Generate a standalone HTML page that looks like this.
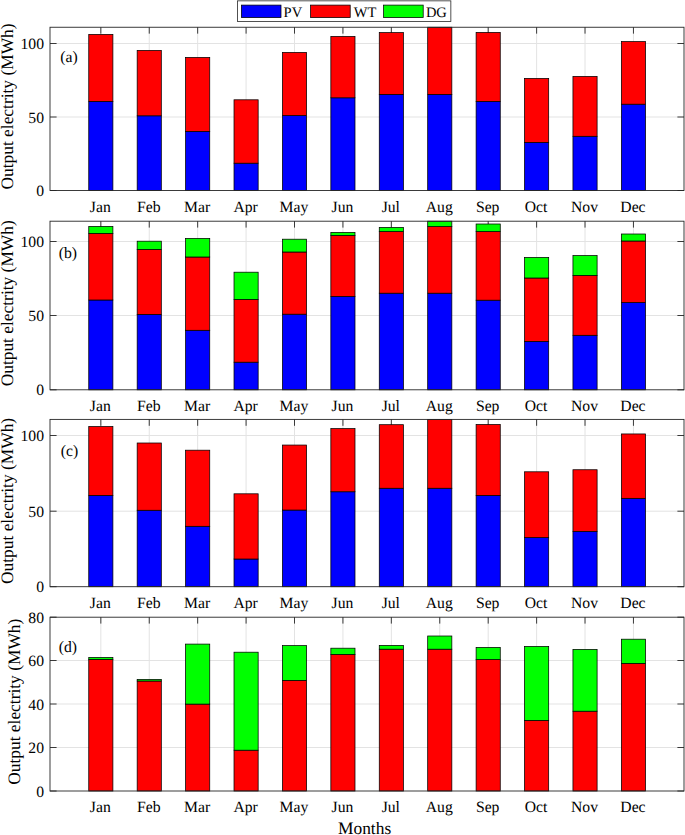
<!DOCTYPE html>
<html><head><meta charset="utf-8"><style>
html,body{margin:0;padding:0;background:#fff;}
svg{display:block;}
text{font-family:"Liberation Serif",serif;fill:#000;text-rendering:geometricPrecision;}
.tk{font-size:15.7px;}
.lb{font-size:17.4px;}
.lg{font-size:14.5px;}
</style></head><body>
<svg width="685" height="835" viewBox="0 0 685 835">
<rect width="685" height="835" fill="#fff"/>
<g stroke="#e3e3e3" stroke-width="1">
<line x1="100.83" y1="27.25" x2="100.83" y2="190.5"/>
<line x1="149.25" y1="27.25" x2="149.25" y2="190.5"/>
<line x1="197.67" y1="27.25" x2="197.67" y2="190.5"/>
<line x1="246.08" y1="27.25" x2="246.08" y2="190.5"/>
<line x1="294.50" y1="27.25" x2="294.50" y2="190.5"/>
<line x1="342.93" y1="27.25" x2="342.93" y2="190.5"/>
<line x1="391.34" y1="27.25" x2="391.34" y2="190.5"/>
<line x1="439.76" y1="27.25" x2="439.76" y2="190.5"/>
<line x1="488.19" y1="27.25" x2="488.19" y2="190.5"/>
<line x1="536.61" y1="27.25" x2="536.61" y2="190.5"/>
<line x1="585.03" y1="27.25" x2="585.03" y2="190.5"/>
<line x1="633.45" y1="27.25" x2="633.45" y2="190.5"/>
<line x1="50.0" y1="117.0" x2="684.0" y2="117.0"/>
<line x1="50.0" y1="43.5" x2="684.0" y2="43.5"/>
</g>
<g stroke="#262626" stroke-width="0.9">
<line x1="50.0" y1="190.5" x2="56.6" y2="190.5"/>
<line x1="684.0" y1="190.5" x2="677.4" y2="190.5"/>
<line x1="50.0" y1="117.0" x2="56.6" y2="117.0"/>
<line x1="684.0" y1="117.0" x2="677.4" y2="117.0"/>
<line x1="50.0" y1="43.5" x2="56.6" y2="43.5"/>
<line x1="684.0" y1="43.5" x2="677.4" y2="43.5"/>
<line x1="100.83" y1="27.25" x2="100.83" y2="33.65"/>
<line x1="149.25" y1="27.25" x2="149.25" y2="33.65"/>
<line x1="197.67" y1="27.25" x2="197.67" y2="33.65"/>
<line x1="246.08" y1="27.25" x2="246.08" y2="33.65"/>
<line x1="294.50" y1="27.25" x2="294.50" y2="33.65"/>
<line x1="342.93" y1="27.25" x2="342.93" y2="33.65"/>
<line x1="391.34" y1="27.25" x2="391.34" y2="33.65"/>
<line x1="439.76" y1="27.25" x2="439.76" y2="33.65"/>
<line x1="488.19" y1="27.25" x2="488.19" y2="33.65"/>
<line x1="536.61" y1="27.25" x2="536.61" y2="33.65"/>
<line x1="585.03" y1="27.25" x2="585.03" y2="33.65"/>
<line x1="633.45" y1="27.25" x2="633.45" y2="33.65"/>
</g>
<g stroke="#000" stroke-width="0.75">
<rect x="88.75" y="101.40" width="24.15" height="89.10" fill="#0000ff"/>
<rect x="88.75" y="34.40" width="24.15" height="67.00" fill="#ff0000"/>
<rect x="137.17" y="115.80" width="24.15" height="74.70" fill="#0000ff"/>
<rect x="137.17" y="50.40" width="24.15" height="65.40" fill="#ff0000"/>
<rect x="185.59" y="131.40" width="24.15" height="59.10" fill="#0000ff"/>
<rect x="185.59" y="57.40" width="24.15" height="74.00" fill="#ff0000"/>
<rect x="234.01" y="163.20" width="24.15" height="27.30" fill="#0000ff"/>
<rect x="234.01" y="99.80" width="24.15" height="63.40" fill="#ff0000"/>
<rect x="282.43" y="115.60" width="24.15" height="74.90" fill="#0000ff"/>
<rect x="282.43" y="52.40" width="24.15" height="63.20" fill="#ff0000"/>
<rect x="330.85" y="97.80" width="24.15" height="92.70" fill="#0000ff"/>
<rect x="330.85" y="36.40" width="24.15" height="61.40" fill="#ff0000"/>
<rect x="379.27" y="94.40" width="24.15" height="96.10" fill="#0000ff"/>
<rect x="379.27" y="32.60" width="24.15" height="61.80" fill="#ff0000"/>
<rect x="427.69" y="94.40" width="24.15" height="96.10" fill="#0000ff"/>
<rect x="427.69" y="27.25" width="24.15" height="67.15" fill="#ff0000"/>
<rect x="476.11" y="101.40" width="24.15" height="89.10" fill="#0000ff"/>
<rect x="476.11" y="32.40" width="24.15" height="69.00" fill="#ff0000"/>
<rect x="524.53" y="142.40" width="24.15" height="48.10" fill="#0000ff"/>
<rect x="524.53" y="78.40" width="24.15" height="64.00" fill="#ff0000"/>
<rect x="572.95" y="136.30" width="24.15" height="54.20" fill="#0000ff"/>
<rect x="572.95" y="76.40" width="24.15" height="59.90" fill="#ff0000"/>
<rect x="621.37" y="104.20" width="24.15" height="86.30" fill="#0000ff"/>
<rect x="621.37" y="41.60" width="24.15" height="62.60" fill="#ff0000"/>
</g>
<rect x="50.0" y="27.25" width="634.0" height="163.25" fill="none" stroke="#262626" stroke-width="0.9"/>
<text x="44.0" y="196.00" text-anchor="end" class="tk">0</text>
<text x="44.0" y="122.50" text-anchor="end" class="tk">50</text>
<text x="44.0" y="49.00" text-anchor="end" class="tk">100</text>
<text x="100.33" y="211.50" text-anchor="middle" class="tk">Jan</text>
<text x="148.75" y="211.50" text-anchor="middle" class="tk">Feb</text>
<text x="197.17" y="211.50" text-anchor="middle" class="tk">Mar</text>
<text x="245.58" y="211.50" text-anchor="middle" class="tk">Apr</text>
<text x="294.00" y="211.50" text-anchor="middle" class="tk">May</text>
<text x="342.43" y="211.50" text-anchor="middle" class="tk">Jun</text>
<text x="390.84" y="211.50" text-anchor="middle" class="tk">Jul</text>
<text x="439.26" y="211.50" text-anchor="middle" class="tk">Aug</text>
<text x="487.69" y="211.50" text-anchor="middle" class="tk">Sep</text>
<text x="536.11" y="211.50" text-anchor="middle" class="tk">Oct</text>
<text x="584.53" y="211.50" text-anchor="middle" class="tk">Nov</text>
<text x="632.95" y="211.50" text-anchor="middle" class="tk">Dec</text>
<text x="60.3" y="61.5" class="tk">(a)</text>
<text transform="translate(12.6,106.5) rotate(-90)" text-anchor="middle" class="lb">Output electrity (MWh)</text>
<g stroke="#e3e3e3" stroke-width="1">
<line x1="100.83" y1="221.2" x2="100.83" y2="389.8"/>
<line x1="149.25" y1="221.2" x2="149.25" y2="389.8"/>
<line x1="197.67" y1="221.2" x2="197.67" y2="389.8"/>
<line x1="246.08" y1="221.2" x2="246.08" y2="389.8"/>
<line x1="294.50" y1="221.2" x2="294.50" y2="389.8"/>
<line x1="342.93" y1="221.2" x2="342.93" y2="389.8"/>
<line x1="391.34" y1="221.2" x2="391.34" y2="389.8"/>
<line x1="439.76" y1="221.2" x2="439.76" y2="389.8"/>
<line x1="488.19" y1="221.2" x2="488.19" y2="389.8"/>
<line x1="536.61" y1="221.2" x2="536.61" y2="389.8"/>
<line x1="585.03" y1="221.2" x2="585.03" y2="389.8"/>
<line x1="633.45" y1="221.2" x2="633.45" y2="389.8"/>
<line x1="50.0" y1="315.5" x2="684.0" y2="315.5"/>
<line x1="50.0" y1="241.5" x2="684.0" y2="241.5"/>
</g>
<g stroke="#262626" stroke-width="0.9">
<line x1="50.0" y1="389.8" x2="56.6" y2="389.8"/>
<line x1="684.0" y1="389.8" x2="677.4" y2="389.8"/>
<line x1="50.0" y1="315.5" x2="56.6" y2="315.5"/>
<line x1="684.0" y1="315.5" x2="677.4" y2="315.5"/>
<line x1="50.0" y1="241.5" x2="56.6" y2="241.5"/>
<line x1="684.0" y1="241.5" x2="677.4" y2="241.5"/>
<line x1="100.83" y1="221.2" x2="100.83" y2="227.6"/>
<line x1="149.25" y1="221.2" x2="149.25" y2="227.6"/>
<line x1="197.67" y1="221.2" x2="197.67" y2="227.6"/>
<line x1="246.08" y1="221.2" x2="246.08" y2="227.6"/>
<line x1="294.50" y1="221.2" x2="294.50" y2="227.6"/>
<line x1="342.93" y1="221.2" x2="342.93" y2="227.6"/>
<line x1="391.34" y1="221.2" x2="391.34" y2="227.6"/>
<line x1="439.76" y1="221.2" x2="439.76" y2="227.6"/>
<line x1="488.19" y1="221.2" x2="488.19" y2="227.6"/>
<line x1="536.61" y1="221.2" x2="536.61" y2="227.6"/>
<line x1="585.03" y1="221.2" x2="585.03" y2="227.6"/>
<line x1="633.45" y1="221.2" x2="633.45" y2="227.6"/>
</g>
<g stroke="#000" stroke-width="0.75">
<rect x="88.75" y="300.00" width="24.15" height="89.80" fill="#0000ff"/>
<rect x="88.75" y="233.40" width="24.15" height="66.60" fill="#ff0000"/>
<rect x="88.75" y="226.40" width="24.15" height="7.00" fill="#00ff00"/>
<rect x="137.17" y="314.40" width="24.15" height="75.40" fill="#0000ff"/>
<rect x="137.17" y="249.40" width="24.15" height="65.00" fill="#ff0000"/>
<rect x="137.17" y="241.20" width="24.15" height="8.20" fill="#00ff00"/>
<rect x="185.59" y="330.30" width="24.15" height="59.50" fill="#0000ff"/>
<rect x="185.59" y="257.00" width="24.15" height="73.30" fill="#ff0000"/>
<rect x="185.59" y="238.40" width="24.15" height="18.60" fill="#00ff00"/>
<rect x="234.01" y="362.20" width="24.15" height="27.60" fill="#0000ff"/>
<rect x="234.01" y="299.40" width="24.15" height="62.80" fill="#ff0000"/>
<rect x="234.01" y="272.20" width="24.15" height="27.20" fill="#00ff00"/>
<rect x="282.43" y="314.20" width="24.15" height="75.60" fill="#0000ff"/>
<rect x="282.43" y="252.00" width="24.15" height="62.20" fill="#ff0000"/>
<rect x="282.43" y="239.20" width="24.15" height="12.80" fill="#00ff00"/>
<rect x="330.85" y="296.40" width="24.15" height="93.40" fill="#0000ff"/>
<rect x="330.85" y="235.40" width="24.15" height="61.00" fill="#ff0000"/>
<rect x="330.85" y="232.40" width="24.15" height="3.00" fill="#00ff00"/>
<rect x="379.27" y="293.20" width="24.15" height="96.60" fill="#0000ff"/>
<rect x="379.27" y="231.60" width="24.15" height="61.60" fill="#ff0000"/>
<rect x="379.27" y="227.40" width="24.15" height="4.20" fill="#00ff00"/>
<rect x="427.69" y="293.20" width="24.15" height="96.60" fill="#0000ff"/>
<rect x="427.69" y="226.60" width="24.15" height="66.60" fill="#ff0000"/>
<rect x="427.69" y="221.20" width="24.15" height="5.40" fill="#00ff00"/>
<rect x="476.11" y="300.20" width="24.15" height="89.60" fill="#0000ff"/>
<rect x="476.11" y="231.60" width="24.15" height="68.60" fill="#ff0000"/>
<rect x="476.11" y="224.00" width="24.15" height="7.60" fill="#00ff00"/>
<rect x="524.53" y="341.40" width="24.15" height="48.40" fill="#0000ff"/>
<rect x="524.53" y="278.00" width="24.15" height="63.40" fill="#ff0000"/>
<rect x="524.53" y="257.40" width="24.15" height="20.60" fill="#00ff00"/>
<rect x="572.95" y="335.30" width="24.15" height="54.50" fill="#0000ff"/>
<rect x="572.95" y="275.40" width="24.15" height="59.90" fill="#ff0000"/>
<rect x="572.95" y="255.60" width="24.15" height="19.80" fill="#00ff00"/>
<rect x="621.37" y="302.60" width="24.15" height="87.20" fill="#0000ff"/>
<rect x="621.37" y="241.00" width="24.15" height="61.60" fill="#ff0000"/>
<rect x="621.37" y="234.00" width="24.15" height="7.00" fill="#00ff00"/>
</g>
<rect x="50.0" y="221.2" width="634.0" height="168.60000000000002" fill="none" stroke="#262626" stroke-width="0.9"/>
<text x="44.0" y="395.30" text-anchor="end" class="tk">0</text>
<text x="44.0" y="321.00" text-anchor="end" class="tk">50</text>
<text x="44.0" y="247.00" text-anchor="end" class="tk">100</text>
<text x="100.33" y="410.80" text-anchor="middle" class="tk">Jan</text>
<text x="148.75" y="410.80" text-anchor="middle" class="tk">Feb</text>
<text x="197.17" y="410.80" text-anchor="middle" class="tk">Mar</text>
<text x="245.58" y="410.80" text-anchor="middle" class="tk">Apr</text>
<text x="294.00" y="410.80" text-anchor="middle" class="tk">May</text>
<text x="342.43" y="410.80" text-anchor="middle" class="tk">Jun</text>
<text x="390.84" y="410.80" text-anchor="middle" class="tk">Jul</text>
<text x="439.26" y="410.80" text-anchor="middle" class="tk">Aug</text>
<text x="487.69" y="410.80" text-anchor="middle" class="tk">Sep</text>
<text x="536.11" y="410.80" text-anchor="middle" class="tk">Oct</text>
<text x="584.53" y="410.80" text-anchor="middle" class="tk">Nov</text>
<text x="632.95" y="410.80" text-anchor="middle" class="tk">Dec</text>
<text x="58.8" y="258.0" class="tk">(b)</text>
<text transform="translate(12.6,303.3) rotate(-90)" text-anchor="middle" class="lb">Output electrity (MWh)</text>
<g stroke="#e3e3e3" stroke-width="1">
<line x1="100.83" y1="419.4" x2="100.83" y2="586.7"/>
<line x1="149.25" y1="419.4" x2="149.25" y2="586.7"/>
<line x1="197.67" y1="419.4" x2="197.67" y2="586.7"/>
<line x1="246.08" y1="419.4" x2="246.08" y2="586.7"/>
<line x1="294.50" y1="419.4" x2="294.50" y2="586.7"/>
<line x1="342.93" y1="419.4" x2="342.93" y2="586.7"/>
<line x1="391.34" y1="419.4" x2="391.34" y2="586.7"/>
<line x1="439.76" y1="419.4" x2="439.76" y2="586.7"/>
<line x1="488.19" y1="419.4" x2="488.19" y2="586.7"/>
<line x1="536.61" y1="419.4" x2="536.61" y2="586.7"/>
<line x1="585.03" y1="419.4" x2="585.03" y2="586.7"/>
<line x1="633.45" y1="419.4" x2="633.45" y2="586.7"/>
<line x1="50.0" y1="511.2" x2="684.0" y2="511.2"/>
<line x1="50.0" y1="435.5" x2="684.0" y2="435.5"/>
</g>
<g stroke="#262626" stroke-width="0.9">
<line x1="50.0" y1="586.7" x2="56.6" y2="586.7"/>
<line x1="684.0" y1="586.7" x2="677.4" y2="586.7"/>
<line x1="50.0" y1="511.2" x2="56.6" y2="511.2"/>
<line x1="684.0" y1="511.2" x2="677.4" y2="511.2"/>
<line x1="50.0" y1="435.5" x2="56.6" y2="435.5"/>
<line x1="684.0" y1="435.5" x2="677.4" y2="435.5"/>
<line x1="100.83" y1="419.4" x2="100.83" y2="425.79999999999995"/>
<line x1="149.25" y1="419.4" x2="149.25" y2="425.79999999999995"/>
<line x1="197.67" y1="419.4" x2="197.67" y2="425.79999999999995"/>
<line x1="246.08" y1="419.4" x2="246.08" y2="425.79999999999995"/>
<line x1="294.50" y1="419.4" x2="294.50" y2="425.79999999999995"/>
<line x1="342.93" y1="419.4" x2="342.93" y2="425.79999999999995"/>
<line x1="391.34" y1="419.4" x2="391.34" y2="425.79999999999995"/>
<line x1="439.76" y1="419.4" x2="439.76" y2="425.79999999999995"/>
<line x1="488.19" y1="419.4" x2="488.19" y2="425.79999999999995"/>
<line x1="536.61" y1="419.4" x2="536.61" y2="425.79999999999995"/>
<line x1="585.03" y1="419.4" x2="585.03" y2="425.79999999999995"/>
<line x1="633.45" y1="419.4" x2="633.45" y2="425.79999999999995"/>
</g>
<g stroke="#000" stroke-width="0.75">
<rect x="88.75" y="495.45" width="24.15" height="91.25" fill="#0000ff"/>
<rect x="88.75" y="426.54" width="24.15" height="68.91" fill="#ff0000"/>
<rect x="137.17" y="510.27" width="24.15" height="76.43" fill="#0000ff"/>
<rect x="137.17" y="443.00" width="24.15" height="67.27" fill="#ff0000"/>
<rect x="185.59" y="526.31" width="24.15" height="60.39" fill="#0000ff"/>
<rect x="185.59" y="450.20" width="24.15" height="76.11" fill="#ff0000"/>
<rect x="234.01" y="559.02" width="24.15" height="27.68" fill="#0000ff"/>
<rect x="234.01" y="493.81" width="24.15" height="65.21" fill="#ff0000"/>
<rect x="282.43" y="510.06" width="24.15" height="76.64" fill="#0000ff"/>
<rect x="282.43" y="445.05" width="24.15" height="65.01" fill="#ff0000"/>
<rect x="330.85" y="491.75" width="24.15" height="94.95" fill="#0000ff"/>
<rect x="330.85" y="428.60" width="24.15" height="63.15" fill="#ff0000"/>
<rect x="379.27" y="488.25" width="24.15" height="98.45" fill="#0000ff"/>
<rect x="379.27" y="424.69" width="24.15" height="63.57" fill="#ff0000"/>
<rect x="427.69" y="488.25" width="24.15" height="98.45" fill="#0000ff"/>
<rect x="427.69" y="419.40" width="24.15" height="68.85" fill="#ff0000"/>
<rect x="476.11" y="495.45" width="24.15" height="91.25" fill="#0000ff"/>
<rect x="476.11" y="424.48" width="24.15" height="70.97" fill="#ff0000"/>
<rect x="524.53" y="537.63" width="24.15" height="49.07" fill="#0000ff"/>
<rect x="524.53" y="471.80" width="24.15" height="65.83" fill="#ff0000"/>
<rect x="572.95" y="531.35" width="24.15" height="55.35" fill="#0000ff"/>
<rect x="572.95" y="469.74" width="24.15" height="61.61" fill="#ff0000"/>
<rect x="621.37" y="498.33" width="24.15" height="88.37" fill="#0000ff"/>
<rect x="621.37" y="433.95" width="24.15" height="64.39" fill="#ff0000"/>
</g>
<rect x="50.0" y="419.4" width="634.0" height="167.30000000000007" fill="none" stroke="#262626" stroke-width="0.9"/>
<text x="44.0" y="592.20" text-anchor="end" class="tk">0</text>
<text x="44.0" y="516.70" text-anchor="end" class="tk">50</text>
<text x="44.0" y="441.00" text-anchor="end" class="tk">100</text>
<text x="100.33" y="607.70" text-anchor="middle" class="tk">Jan</text>
<text x="148.75" y="607.70" text-anchor="middle" class="tk">Feb</text>
<text x="197.17" y="607.70" text-anchor="middle" class="tk">Mar</text>
<text x="245.58" y="607.70" text-anchor="middle" class="tk">Apr</text>
<text x="294.00" y="607.70" text-anchor="middle" class="tk">May</text>
<text x="342.43" y="607.70" text-anchor="middle" class="tk">Jun</text>
<text x="390.84" y="607.70" text-anchor="middle" class="tk">Jul</text>
<text x="439.26" y="607.70" text-anchor="middle" class="tk">Aug</text>
<text x="487.69" y="607.70" text-anchor="middle" class="tk">Sep</text>
<text x="536.11" y="607.70" text-anchor="middle" class="tk">Oct</text>
<text x="584.53" y="607.70" text-anchor="middle" class="tk">Nov</text>
<text x="632.95" y="607.70" text-anchor="middle" class="tk">Dec</text>
<text x="60.8" y="456.1" class="tk">(c)</text>
<text transform="translate(12.6,500.95) rotate(-90)" text-anchor="middle" class="lb">Output electrity (MWh)</text>
<g stroke="#e3e3e3" stroke-width="1">
<line x1="100.83" y1="617.2" x2="100.83" y2="791.0"/>
<line x1="149.25" y1="617.2" x2="149.25" y2="791.0"/>
<line x1="197.67" y1="617.2" x2="197.67" y2="791.0"/>
<line x1="246.08" y1="617.2" x2="246.08" y2="791.0"/>
<line x1="294.50" y1="617.2" x2="294.50" y2="791.0"/>
<line x1="342.93" y1="617.2" x2="342.93" y2="791.0"/>
<line x1="391.34" y1="617.2" x2="391.34" y2="791.0"/>
<line x1="439.76" y1="617.2" x2="439.76" y2="791.0"/>
<line x1="488.19" y1="617.2" x2="488.19" y2="791.0"/>
<line x1="536.61" y1="617.2" x2="536.61" y2="791.0"/>
<line x1="585.03" y1="617.2" x2="585.03" y2="791.0"/>
<line x1="633.45" y1="617.2" x2="633.45" y2="791.0"/>
<line x1="50.0" y1="747.5" x2="684.0" y2="747.5"/>
<line x1="50.0" y1="704.0" x2="684.0" y2="704.0"/>
<line x1="50.0" y1="660.5" x2="684.0" y2="660.5"/>
</g>
<g stroke="#262626" stroke-width="0.9">
<line x1="50.0" y1="791.0" x2="56.6" y2="791.0"/>
<line x1="684.0" y1="791.0" x2="677.4" y2="791.0"/>
<line x1="50.0" y1="747.5" x2="56.6" y2="747.5"/>
<line x1="684.0" y1="747.5" x2="677.4" y2="747.5"/>
<line x1="50.0" y1="704.0" x2="56.6" y2="704.0"/>
<line x1="684.0" y1="704.0" x2="677.4" y2="704.0"/>
<line x1="50.0" y1="660.5" x2="56.6" y2="660.5"/>
<line x1="684.0" y1="660.5" x2="677.4" y2="660.5"/>
<line x1="50.0" y1="617.2" x2="56.6" y2="617.2"/>
<line x1="684.0" y1="617.2" x2="677.4" y2="617.2"/>
<line x1="100.83" y1="617.2" x2="100.83" y2="623.6"/>
<line x1="149.25" y1="617.2" x2="149.25" y2="623.6"/>
<line x1="197.67" y1="617.2" x2="197.67" y2="623.6"/>
<line x1="246.08" y1="617.2" x2="246.08" y2="623.6"/>
<line x1="294.50" y1="617.2" x2="294.50" y2="623.6"/>
<line x1="342.93" y1="617.2" x2="342.93" y2="623.6"/>
<line x1="391.34" y1="617.2" x2="391.34" y2="623.6"/>
<line x1="439.76" y1="617.2" x2="439.76" y2="623.6"/>
<line x1="488.19" y1="617.2" x2="488.19" y2="623.6"/>
<line x1="536.61" y1="617.2" x2="536.61" y2="623.6"/>
<line x1="585.03" y1="617.2" x2="585.03" y2="623.6"/>
<line x1="633.45" y1="617.2" x2="633.45" y2="623.6"/>
</g>
<g stroke="#000" stroke-width="0.75">
<rect x="88.75" y="659.40" width="24.15" height="131.60" fill="#ff0000"/>
<rect x="88.75" y="657.40" width="24.15" height="2.00" fill="#00ff00"/>
<rect x="137.17" y="681.00" width="24.15" height="110.00" fill="#ff0000"/>
<rect x="137.17" y="679.40" width="24.15" height="1.60" fill="#00ff00"/>
<rect x="185.59" y="704.10" width="24.15" height="86.90" fill="#ff0000"/>
<rect x="185.59" y="644.10" width="24.15" height="60.00" fill="#00ff00"/>
<rect x="234.01" y="750.20" width="24.15" height="40.80" fill="#ff0000"/>
<rect x="234.01" y="652.20" width="24.15" height="98.00" fill="#00ff00"/>
<rect x="282.43" y="680.40" width="24.15" height="110.60" fill="#ff0000"/>
<rect x="282.43" y="645.60" width="24.15" height="34.80" fill="#00ff00"/>
<rect x="330.85" y="654.40" width="24.15" height="136.60" fill="#ff0000"/>
<rect x="330.85" y="648.20" width="24.15" height="6.20" fill="#00ff00"/>
<rect x="379.27" y="649.20" width="24.15" height="141.80" fill="#ff0000"/>
<rect x="379.27" y="645.40" width="24.15" height="3.80" fill="#00ff00"/>
<rect x="427.69" y="649.20" width="24.15" height="141.80" fill="#ff0000"/>
<rect x="427.69" y="636.00" width="24.15" height="13.20" fill="#00ff00"/>
<rect x="476.11" y="659.60" width="24.15" height="131.40" fill="#ff0000"/>
<rect x="476.11" y="647.40" width="24.15" height="12.20" fill="#00ff00"/>
<rect x="524.53" y="720.40" width="24.15" height="70.60" fill="#ff0000"/>
<rect x="524.53" y="646.40" width="24.15" height="74.00" fill="#00ff00"/>
<rect x="572.95" y="711.20" width="24.15" height="79.80" fill="#ff0000"/>
<rect x="572.95" y="649.40" width="24.15" height="61.80" fill="#00ff00"/>
<rect x="621.37" y="663.40" width="24.15" height="127.60" fill="#ff0000"/>
<rect x="621.37" y="639.20" width="24.15" height="24.20" fill="#00ff00"/>
</g>
<rect x="50.0" y="617.2" width="634.0" height="173.79999999999995" fill="none" stroke="#262626" stroke-width="0.9"/>
<text x="44.0" y="796.50" text-anchor="end" class="tk">0</text>
<text x="44.0" y="753.00" text-anchor="end" class="tk">20</text>
<text x="44.0" y="709.50" text-anchor="end" class="tk">40</text>
<text x="44.0" y="666.00" text-anchor="end" class="tk">60</text>
<text x="44.0" y="622.70" text-anchor="end" class="tk">80</text>
<text x="100.33" y="812.00" text-anchor="middle" class="tk">Jan</text>
<text x="148.75" y="812.00" text-anchor="middle" class="tk">Feb</text>
<text x="197.17" y="812.00" text-anchor="middle" class="tk">Mar</text>
<text x="245.58" y="812.00" text-anchor="middle" class="tk">Apr</text>
<text x="294.00" y="812.00" text-anchor="middle" class="tk">May</text>
<text x="342.43" y="812.00" text-anchor="middle" class="tk">Jun</text>
<text x="390.84" y="812.00" text-anchor="middle" class="tk">Jul</text>
<text x="439.26" y="812.00" text-anchor="middle" class="tk">Aug</text>
<text x="487.69" y="812.00" text-anchor="middle" class="tk">Sep</text>
<text x="536.11" y="812.00" text-anchor="middle" class="tk">Oct</text>
<text x="584.53" y="812.00" text-anchor="middle" class="tk">Nov</text>
<text x="632.95" y="812.00" text-anchor="middle" class="tk">Dec</text>
<text x="58.8" y="652.0" class="tk">(d)</text>
<text transform="translate(20.4,701.75) rotate(-90)" text-anchor="middle" class="lb">Output electrity (MWh)</text>
<rect x="237.55" y="0.85" width="213.3" height="20.55" fill="#fff" stroke="#262626" stroke-width="0.8"/>
<rect x="241.4" y="5.1" width="39.6" height="12.5" fill="#0000ff" stroke="#000" stroke-width="0.75"/>
<rect x="310.6" y="5.1" width="39.6" height="12.5" fill="#ff0000" stroke="#000" stroke-width="0.75"/>
<rect x="383.6" y="5.1" width="39.6" height="12.5" fill="#00ff00" stroke="#000" stroke-width="0.75"/>
<text x="283.6" y="17.2" class="lg">PV</text>
<text x="353.8" y="17.2" class="lg">WT</text>
<text x="425.9" y="17.2" class="lg">DG</text>
<text x="364.6" y="833.6" text-anchor="middle" class="lb">Months</text>
</svg>
</body></html>
